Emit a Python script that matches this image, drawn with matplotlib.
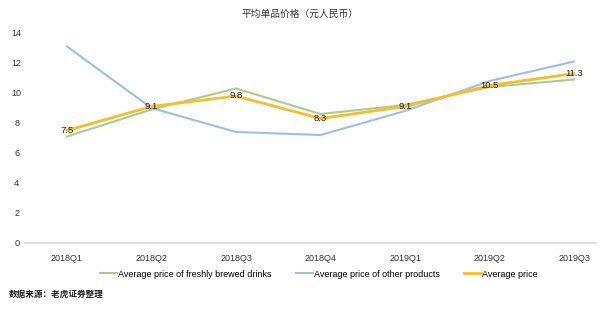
import matplotlib.pyplot as plt
import numpy as np

plt.rcParams["font.family"] = ["Liberation Sans", "Noto Sans CJK SC"]

quarters = ["2018Q1", "2018Q2", "2018Q3", "2018Q4", "2019Q1", "2019Q2", "2019Q3"]
drinks = [7.1, 8.9, 10.3, 8.6, 9.2, 10.4, 10.9]
other = [13.1, 9.0, 7.4, 7.2, 8.8, 10.8, 12.1]
average = [7.5, 9.1, 9.8, 8.3, 9.1, 10.5, 11.3]
yticks = [0, 2, 4, 6, 8, 10, 12, 14]

GREEN = "#a6cf8c"
BLUE = "#9dbfe5"
ORANGE = "#fbbc2c"

fig = plt.figure(figsize=(6.0, 3.09), dpi=100)
ax = fig.add_axes([25 / 600, 66 / 309, 571 / 600, 210 / 309])

x = np.arange(len(quarters))
ax.plot(x, drinks, color=GREEN, lw=1.5, label="Average price of freshly brewed drinks")
ax.plot(x, other, color=BLUE, lw=1.5, label="Average price of other products")
ax.plot(x, average, color=ORANGE, lw=2.0, label="Average price")
for xi, v in zip(x, average):
    ax.text(xi, v, f"{v:.1f}", ha="center", va="center", fontsize=6.8, color="#222222")

ax.set_xlim(-0.497, 6.26)
ax.set_ylim(0, 14)
ax.set_yticks(yticks)
ax.set_xticks(x)
ax.set_xticklabels(quarters)
for s in ["top", "right", "left"]:
    ax.spines[s].set_visible(False)
ax.spines["bottom"].set_color("#d9d9d9")
ax.spines["bottom"].set_linewidth(1.2)
ax.tick_params(axis="both", length=0, labelsize=6.5, colors="#333333")
ax.tick_params(axis="x", pad=8)
ax.tick_params(axis="y", pad=6)
for lab in ax.get_yticklabels():
    lab.set_horizontalalignment("center")

fig.text(0.5, 0.955, "平均单品价格（元人民币）", ha="center", va="center", fontsize=7, color="#333333")
fig.legend(loc="center", bbox_to_anchor=(0.531, 0.113), ncol=3, frameon=False, fontsize=6.5,
           handlelength=1.9, handletextpad=0.1, columnspacing=2.7)
fig.text(0.015, 0.048, "数据来源：老虎证券整理", ha="left", va="center", fontsize=6.2,
         color="#222222", fontweight="bold")

fig.savefig("out.png", dpi=100)
